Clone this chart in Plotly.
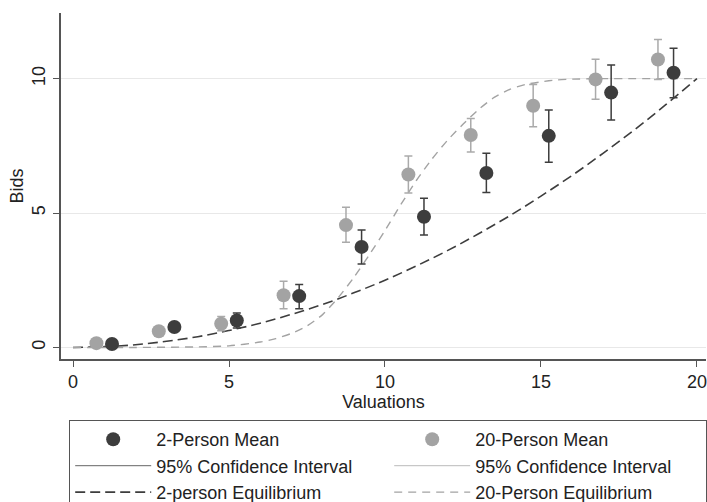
import plotly.graph_objects as go

# ---- data ----
x_two = [1.25, 3.25, 5.25, 7.25, 9.25, 11.25, 13.25, 15.25, 17.25, 19.25]
mean_two = [0.13, 0.76, 1.00, 1.91, 3.74, 4.86, 6.49, 7.87, 9.48, 10.22]
ci_low_two = [0.05, 0.60, 0.72, 1.44, 3.10, 4.18, 5.76, 6.89, 8.46, 9.29]
ci_high_two = [0.21, 0.92, 1.28, 2.34, 4.37, 5.55, 7.22, 8.83, 10.51, 11.13]

x_twenty = [0.75, 2.75, 4.75, 6.75, 8.75, 10.75, 12.75, 14.75, 16.75, 18.75]
mean_twenty = [0.16, 0.60, 0.88, 1.94, 4.55, 6.43, 7.90, 8.99, 9.97, 10.71]
ci_low_twenty = [0.08, 0.45, 0.62, 1.44, 3.91, 5.74, 7.27, 8.21, 9.23, 9.97]
ci_high_twenty = [0.24, 0.75, 1.15, 2.46, 5.21, 7.12, 8.52, 9.78, 10.72, 11.45]

eq_x_two = [0, 1, 2, 3, 4, 5, 6, 7, 8, 9, 10, 11, 12, 13, 14, 15, 16, 17, 18, 19, 20]
eq_y_two = [0, 0.03, 0.10, 0.23, 0.40, 0.63, 0.90, 1.23, 1.60, 2.03, 2.50, 3.03,
            3.60, 4.23, 4.90, 5.63, 6.40, 7.23, 8.10, 9.03, 10.0]

eq_x_twenty = [0, 2, 4, 5, 6, 6.5, 7, 7.5, 8, 8.5, 9, 9.5, 10, 10.5, 11, 11.5, 12,
               12.5, 13, 13.5, 14, 14.5, 15, 15.5, 16, 17, 18, 19, 20]
eq_y_twenty = [0, 0, 0.02, 0.06, 0.20, 0.33, 0.52, 0.80, 1.22, 1.85, 2.60, 3.45,
               4.35, 5.30, 6.20, 7.00, 7.70, 8.30, 8.85, 9.30, 9.60, 9.78, 9.88,
               9.95, 9.98, 10, 10, 10, 10]

x_ticks = [0, 5, 10, 15, 20]
y_ticks = [0, 5, 10]

DARK = "#3d3d3d"
GRAY = "#a3a3a3"
FONT = "Liberation Sans, Arial, sans-serif"

fig = go.Figure()

# equilibrium curves (drawn first, under the markers)
fig.add_trace(go.Scatter(
    x=eq_x_two, y=eq_y_two, mode="lines", name="2-person Equilibrium",
    line=dict(color=DARK, width=1.6, dash="10px,5px", shape="spline"),
    legendrank=5))
fig.add_trace(go.Scatter(
    x=eq_x_twenty, y=eq_y_twenty, mode="lines", name="20-Person Equilibrium",
    line=dict(color=GRAY, width=1.4, dash="8px,6px", shape="spline", smoothing=0.6),
    legendrank=6, legendwidth=225))

# means with 95% CI error bars
fig.add_trace(go.Scatter(
    x=x_twenty, y=mean_twenty, mode="markers", name="20-Person Mean",
    marker=dict(color=GRAY, size=14),
    error_y=dict(type="data", symmetric=False,
                 array=[h - m for h, m in zip(ci_high_twenty, mean_twenty)],
                 arrayminus=[m - l for l, m in zip(ci_low_twenty, mean_twenty)],
                 color="#aaaaaa", thickness=1.5, width=4),
    legendrank=2, legendwidth=225))
fig.add_trace(go.Scatter(
    x=x_two, y=mean_two, mode="markers", name="2-Person Mean",
    marker=dict(color=DARK, size=14),
    error_y=dict(type="data", symmetric=False,
                 array=[h - m for h, m in zip(ci_high_two, mean_two)],
                 arrayminus=[m - l for l, m in zip(ci_low_two, mean_two)],
                 color=DARK, thickness=1.5, width=4),
    legendrank=1))

# legend-only entries for the confidence intervals
fig.add_trace(go.Scatter(
    x=[None], y=[None], mode="lines", name="95% Confidence Interval",
    line=dict(color="#666666", width=1), legendrank=3))
fig.add_trace(go.Scatter(
    x=[None], y=[None], mode="lines", name="95% Confidence Interval ",
    line=dict(color="#bbbbbb", width=1), legendrank=4, legendwidth=225))

axis_common = dict(
    showline=True, linecolor="#555555", linewidth=1.5,
    ticks="outside", ticklen=6, tickwidth=1.2, tickcolor="#555555",
    zeroline=False, tickfont=dict(size=18, color="#222222", family=FONT),
)

fig.update_layout(
    width=707, height=502,
    margin=dict(l=61, r=1, t=13, b=143, autoexpand=False),
    paper_bgcolor="white", plot_bgcolor="white",
    font=dict(family=FONT, size=18, color="#222222"),
    xaxis=dict(range=[-0.385, 20.29], tickvals=x_ticks, showgrid=False,
               title=dict(text="Valuations", standoff=0,
                          font=dict(size=18, family=FONT, color="#222222")),
               **axis_common),
    yaxis=dict(range=[-0.43, 12.44], tickvals=y_ticks, tickangle=-90,
               showgrid=True, gridcolor="#e8e8e8", gridwidth=1.2,
               ticklabelstandoff=1,
               title=dict(text="Bids", standoff=1,
                          font=dict(size=18, family=FONT, color="#222222")),
               **axis_common),
    showlegend=True,
    legend=dict(orientation="h", x=0.0124, xanchor="left", y=-0.176, yanchor="top",
                bgcolor="white", bordercolor="#555555", borderwidth=1.2,
                itemwidth=76, entrywidth=228, entrywidthmode="pixels",
                font=dict(size=18, family=FONT, color="#222222"),
                traceorder="normal"),
)

fig.write_html("out.html", config={"displayModeBar": False},
               post_script="document.body.style.margin='0px';")
